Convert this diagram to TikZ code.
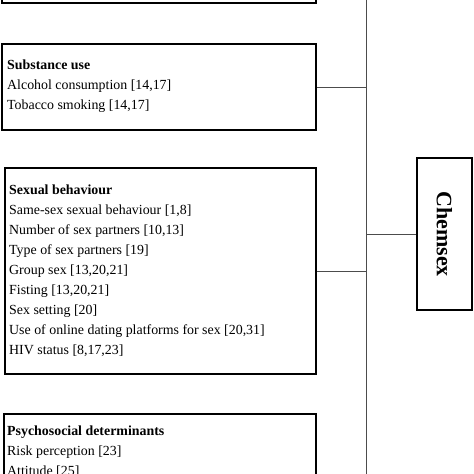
\documentclass[tikz,border=0pt]{standalone}
\usepackage{fontspec}
\setmainfont{Liberation Serif}
\begin{document}
\begin{tikzpicture}[x=1pt,y=-1pt,
  box/.style={draw=black,line width=1.8pt,inner sep=0pt},
  link/.style={draw=black!70,line width=0.8pt},
  txt/.style={font=\fontsize{13.9}{20}\selectfont,align=left,anchor=west,inner sep=0pt}]
\useasboundingbox (0,0) rectangle (474,474);
% boxes
\node[box,minimum width=314pt,minimum height=40pt,anchor=south west] (top) at (1,4) {};
\node[box,minimum width=314pt,minimum height=86pt,anchor=north west] (sub) at (1,43) {};
\node[box,minimum width=311pt,minimum height=206pt,anchor=north west] (sex) at (4,167) {};
\node[box,minimum width=312pt,minimum height=110pt,anchor=north west] (psy) at (3,413) {};
\node[box,minimum width=55pt,minimum height=152pt] (chem) at (444.5,234) {};
% texts
\node[txt] (subtxt) at (7,86) {\textbf{Substance use}\\Alcohol consumption [14,17]\\Tobacco smoking [14,17]};
\node[txt] (sextxt) at (9,270.5) {\textbf{Sexual behaviour}\\Same-sex sexual behaviour [1,8]\\Number of sex partners [10,13]\\Type of sex partners [19]\\Group sex [13,20,21]\\Fisting [13,20,21]\\Sex setting [20]\\Use of online dating platforms for sex [20,31]\\HIV status [8,17,23]};
\node[txt] (psytxt) at (7,452) {\textbf{Psychosocial determinants}\\Risk perception [23]\\Attitude [25]};
\node[font=\bfseries\fontsize{22}{24}\selectfont,rotate=-90] (chemtxt) at (chem.center) {Chemsex};
% spine
\coordinate (spinetop) at (366,-10);
\coordinate (spinebot) at (366,490);
\draw[link] (spinetop) -- (spinebot);
\draw[link] (sub.east) -- (sub.east -| spinetop);
\draw[link] (sex.east) -- (sex.east -| spinetop);
\draw[link] (chem.west) -- (chem.west -| spinetop);
\end{tikzpicture}
\end{document}
